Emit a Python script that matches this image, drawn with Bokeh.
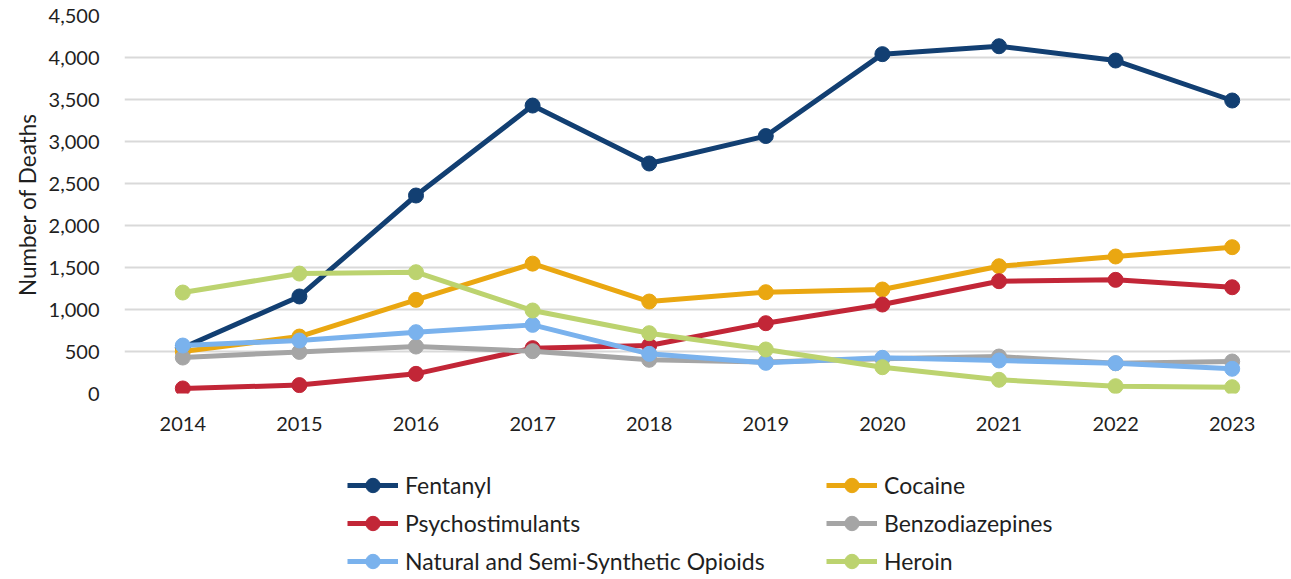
from bokeh.plotting import figure
from bokeh.layouts import column
from bokeh.models import Range1d, FactorRange, Legend, LegendItem, CustomJSTickFormatter, Title
from bokeh.embed import file_html
from bokeh.resources import INLINE

years = ["2014", "2015", "2016", "2017", "2018", "2019", "2020", "2021", "2022", "2023"]
fentanyl = [545, 1155, 2357, 3428, 2738, 3065, 4040, 4134, 3964, 3488]
cocaine = [500, 678, 1115, 1546, 1095, 1206, 1238, 1515, 1631, 1742]
psychostimulants = [60, 100, 234, 540, 571, 837, 1059, 1337, 1353, 1265]
benzodiazepines = [428, 495, 559, 504, 401, 375, 415, 440, 360, 381]
natural_opioids = [571, 631, 730, 817, 472, 365, 425, 393, 361, 294]
heroin = [1202, 1428, 1444, 988, 718, 524, 313, 163, 87, 75]
y_ticks = [0, 500, 1000, 1500, 2000, 2500, 3000, 3500, 4000, 4500]

series = [
    ("Fentanyl", fentanyl, "#123f72"),
    ("Cocaine", cocaine, "#eaa711"),
    ("Psychostimulants", psychostimulants, "#c22637"),
    ("Benzodiazepines", benzodiazepines, "#a5a5a5"),
    ("Natural and Semi-Synthetic Opioids", natural_opioids, "#7ab2ed"),
    ("Heroin", heroin, "#bcd36f"),
]

FONT = "Lato"
TXT = "#1f1f1f"

p = figure(width=1291, height=448, x_range=FactorRange(*years, range_padding=0),
           y_range=Range1d(0, 4500), output_backend="svg", toolbar_location=None,
           min_border_left=124, min_border_right=1, min_border_top=15, min_border_bottom=55)
p.outline_line_color = None
p.xgrid.grid_line_color = None
p.ygrid.grid_line_color = "#d9d9d9"
p.ygrid.grid_line_width = 2

p.yaxis.ticker = y_ticks
p.yaxis.formatter = CustomJSTickFormatter(code="return tick.toLocaleString('en-US');")
for ax in (p.xaxis[0], p.yaxis[0]):
    ax.axis_line_color = None
    ax.major_tick_line_color = None
    ax.minor_tick_line_color = None
    ax.major_tick_out = 0
    ax.major_label_text_font = FONT
    ax.major_label_text_font_size = "20px"
    ax.major_label_text_color = TXT
p.yaxis.major_label_standoff = 25
p.xaxis.major_label_standoff = 23

ytitle = Title(text="Number of Deaths", align="center", offset=12,
               text_font=FONT, text_font_size="22.5px", text_font_style="normal",
               text_color=TXT)
p.add_layout(ytitle, "left")

for name, vals, col in series:
    p.line(years, vals, line_color=col, line_width=5)
    p.scatter(years, vals, marker="circle", size=15, fill_color=col, line_color=col)

# legend in its own strip below the chart (frame aligned with the chart frame)
lg = figure(width=1291, height=131, x_range=Range1d(0, 1), y_range=Range1d(0, 1),
            output_backend="svg", toolbar_location=None, x_axis_type=None, y_axis_type=None,
            min_border_left=0, min_border_right=0, min_border_top=0, min_border_bottom=0)
lg.outline_line_color = None
lg.grid.grid_line_color = None
items = []
for name, vals, col in series:
    # one off-screen point so the legend can draw its swatch
    r1 = lg.line([-5, -4], [-5, -5], line_color=col, line_width=5)
    r2 = lg.scatter([-5], [-5], marker="circle", size=15, fill_color=col, line_color=col)
    items.append(LegendItem(label=name, renderers=[r1, r2]))

legend = Legend(items=items, orientation="horizontal", ncols=2, location=(223, 0),
                glyph_width=51, glyph_height=36, label_height=36, label_width=419,
                label_standoff=7, spacing=2, padding=0, margin=0,
                label_text_font=FONT, label_text_font_size="23px", label_text_color=TXT,
                background_fill_alpha=0, border_line_color=None)
lg.add_layout(legend, "center")

layout = column(p, lg, spacing=0)
open("out.html", "w").write(file_html(layout, INLINE))
